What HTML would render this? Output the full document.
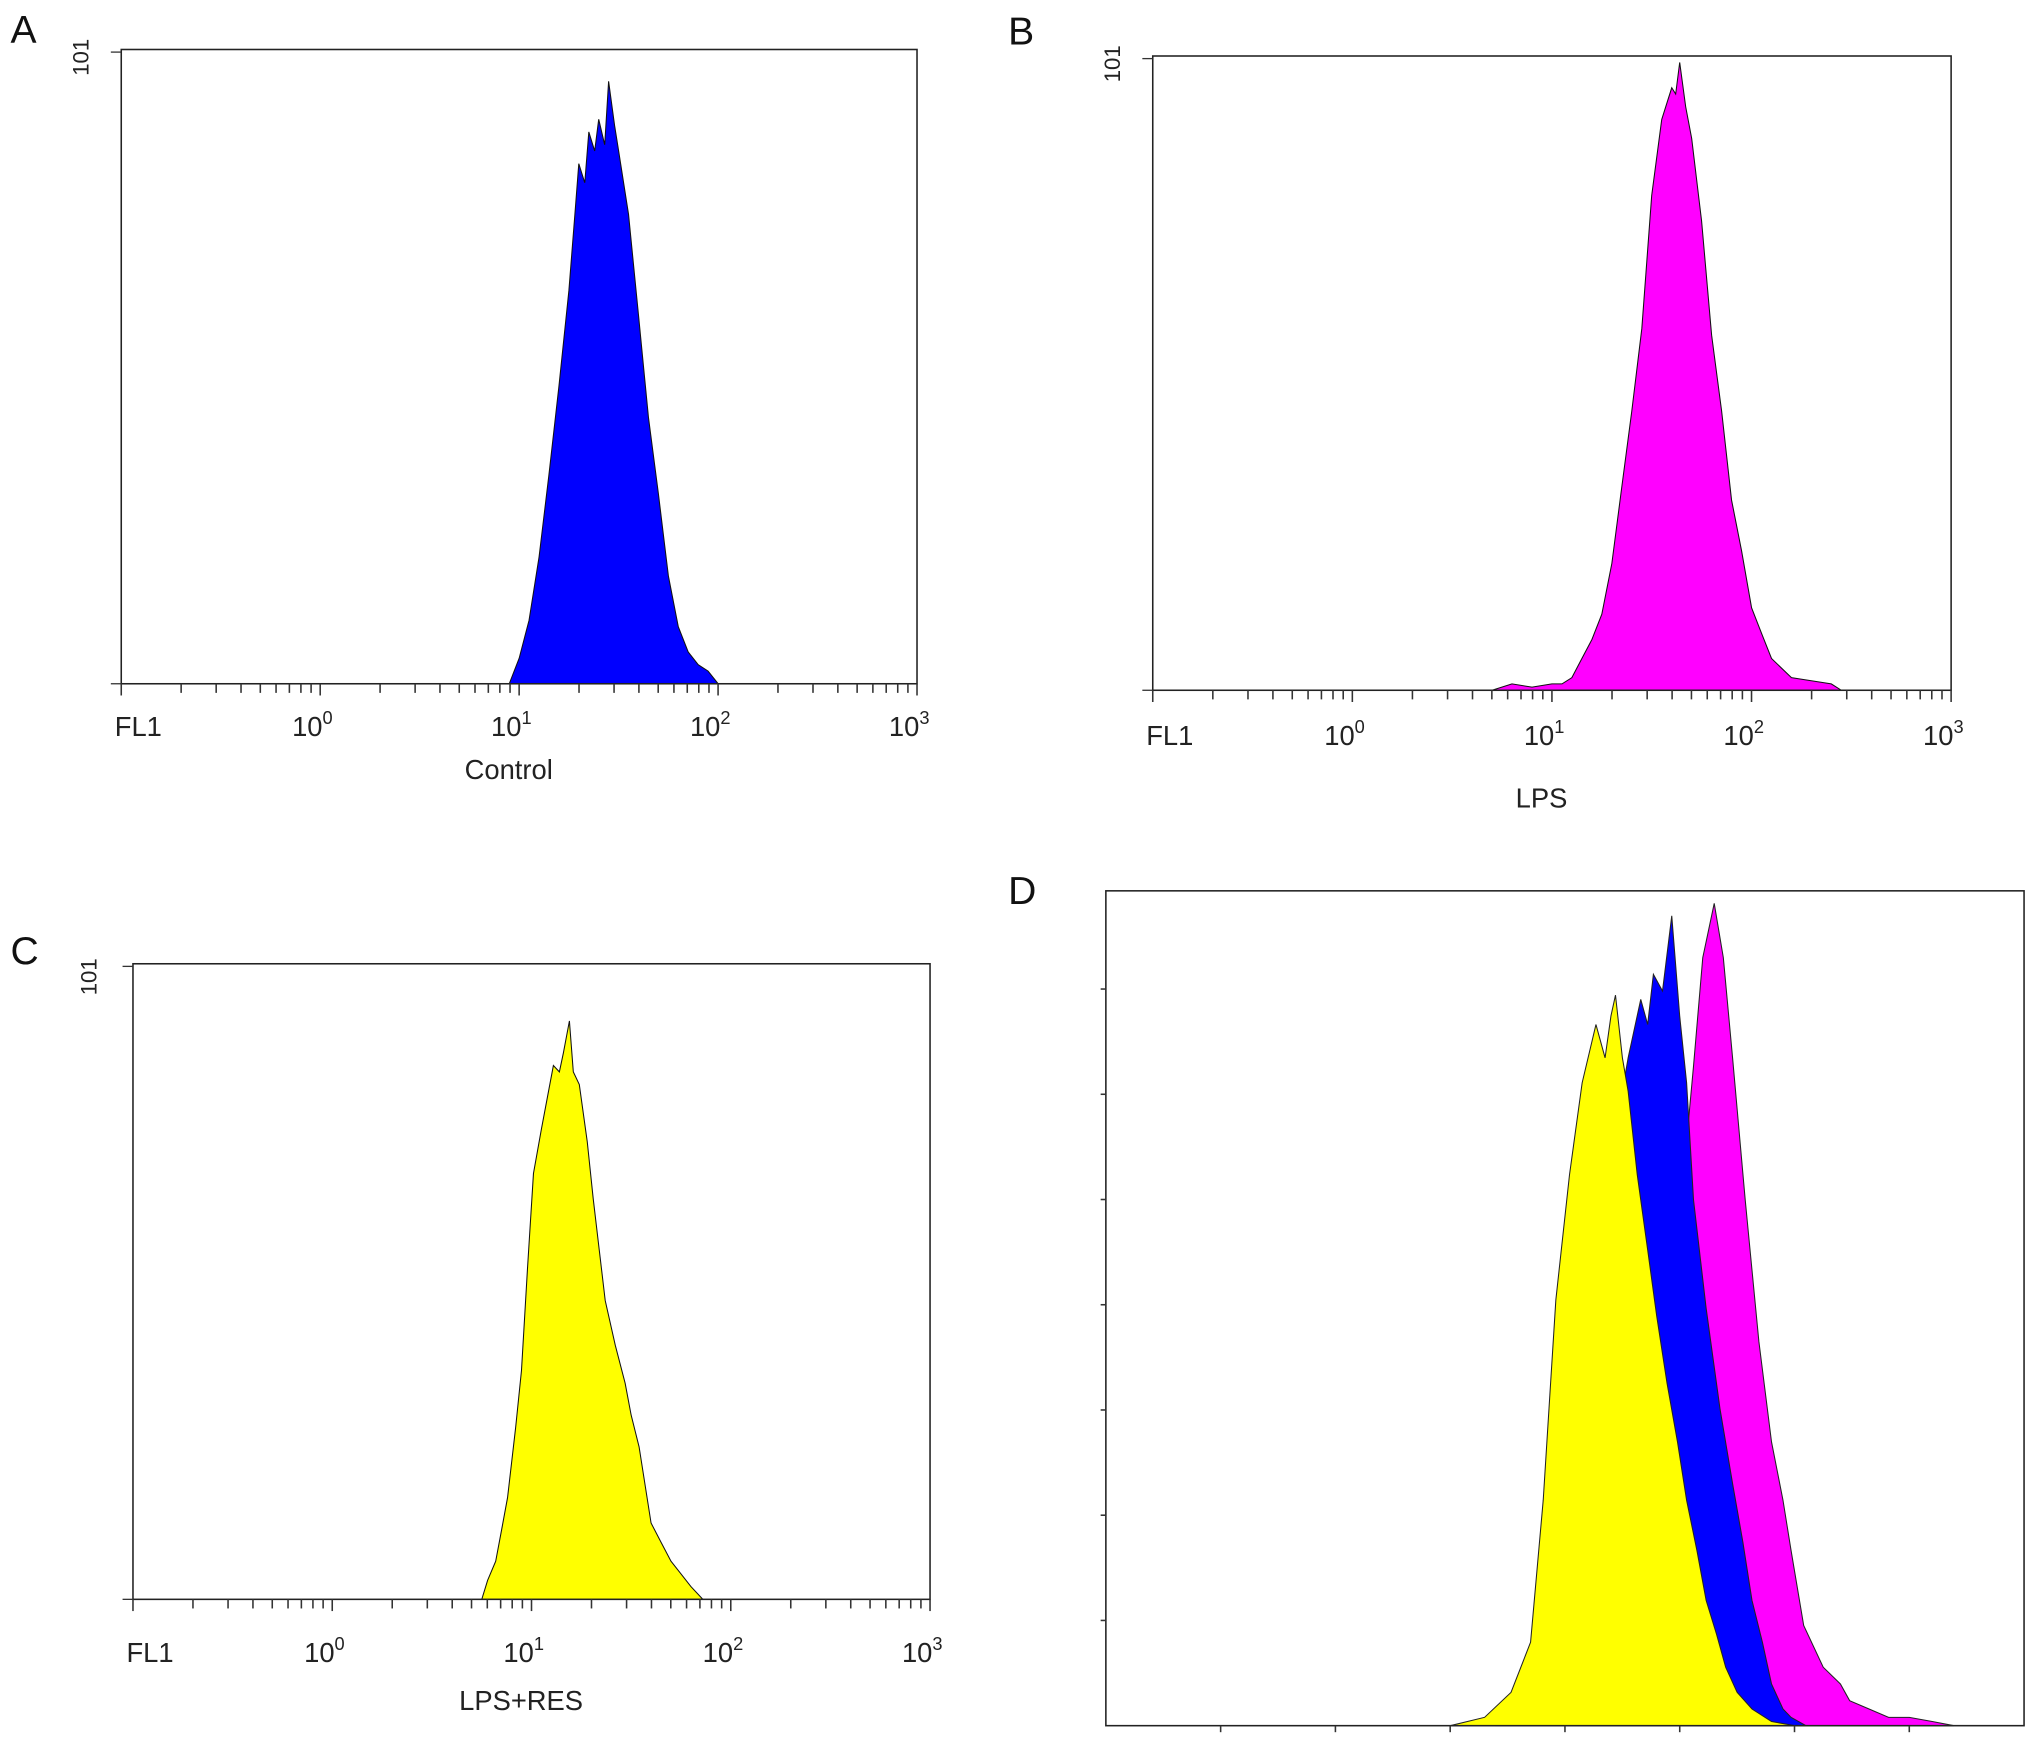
<!DOCTYPE html>
<html><head><meta charset="utf-8"><style>
html,body{margin:0;padding:0;background:#fff;}
svg{display:block;font-family:"Liberation Sans",sans-serif;}
</style></head><body>
<svg id="fig" width="2032" height="1740" viewBox="0 0 1560 1336" xmlns="http://www.w3.org/2000/svg"></svg>
<script>
// ---- data (log10 fluorescence, relative count 0-100) ----
const aX = [0.95,1.0,1.05,1.1,1.15,1.2,1.25,1.28,1.3,1.33,1.35,1.38,1.4,1.43,1.45,1.48,1.5,1.55,1.6,1.65,1.7,1.75,1.8,1.85,1.9,1.95,2.0];
const aY = [0,4,10,20,33,47,62,74,82,79,87,84,89,85,95,88,84,74,58,42,30,17,9,5,3,2,0];
const bX = [0.70,0.8,0.9,1.0,1.05,1.1,1.15,1.2,1.25,1.3,1.35,1.4,1.45,1.5,1.55,1.58,1.6,1.62,1.64,1.67,1.7,1.75,1.8,1.85,1.9,1.95,2.0,2.05,2.1,2.2,2.3,2.4,2.45];
const bY = [0,1,0.5,1,1,2,5,8,12,20,32,44,57,78,90,93,95,94,99,92,87,74,56,44,30,22,13,9,5,2,1.5,1,0];
const cX = [0.75,0.78,0.82,0.85,0.88,0.92,0.95,0.98,1.01,1.05,1.08,1.11,1.14,1.16,1.19,1.21,1.24,1.28,1.31,1.34,1.37,1.42,1.47,1.5,1.54,1.6,1.65,1.7,1.75,1.8,1.86];
const cY = [0,3,6,11,16,27,36,52,67,74,79,84,83,86,91,83,81,72,63,55,47,40,34,29,24,12,9,6,4,2,0];
const dYelX = [3.0,3.3,3.53,3.7,3.81,3.92,4.04,4.15,4.27,4.35,4.4,4.44,4.5,4.55,4.63,4.72,4.8,4.89,4.98,5.06,5.15,5.23,5.32,5.4,5.5,5.63,5.8,6.0];
const dYelY = [0,1,4,10,27,51,66,77,84,80,85,87.5,80,76,66,57,49,41,34,27,21,15,11,7,4,2,0.5,0];
const dBluX = [3.4,3.8,4.0,4.2,4.4,4.55,4.66,4.72,4.77,4.85,4.93,5.0,5.06,5.12,5.23,5.35,5.46,5.55,5.63,5.72,5.8,5.9,5.97,6.1];
const dBluY = [0,8,28,52,68,80,87,84,90,88,97,85,77,63,50,38,29,22,15,10,5,2,1,0];
const dMagX = [3.5,3.9,4.3,4.6,4.8,4.95,5.06,5.12,5.2,5.3,5.38,5.46,5.57,5.69,5.8,5.9,5.97,6.08,6.25,6.4,6.48,6.65,6.82,7.0,7.2,7.39];
const dMagY = [0,6,30,52,64,68,70,79,92,98.5,92,80,63,46,34,27,21,12,7,5,3,2,1,1,0.5,0];
const decadeLabels = ["0","1","2","3"];
const titles = ["Control","LPS","LPS+RES"];

const NS="http://www.w3.org/2000/svg";
const svg=document.getElementById('fig');
function el(tag,attrs,parent){const e=document.createElementNS(NS,tag);for(const k in attrs)e.setAttribute(k,attrs[k]);(parent||svg).appendChild(e);return e;}

function histPath(xs,ys,sx,sy){
  let d='M'+sx(xs[0])+','+sy(0);
  for(let i=0;i<xs.length;i++)d+=' L'+sx(xs[i]).toFixed(1)+','+sy(ys[i]).toFixed(1);
  d+=' L'+sx(xs[xs.length-1])+','+sy(0)+' Z';return d;
}

function logPanel(id,box,xs,ys,color,title,letter,labY,titleY,yLab){
  const g=el('g',{});
  
  
  const [L,T,R,B]=box;
  const sx=v=>L+(v+1)*(R-L)/4;
  const sy=v=>B-v/100*(B-T);
  const p=el('path',{d:histPath(xs,ys,sx,sy),fill:color,stroke:'#111','stroke-width':0.8},g);
  
  
  const fr=el('rect',{x:L,y:T,width:R-L,height:B-T,fill:'none',stroke:'#222','stroke-width':1.2},g);
  
  
  for(let dcd=-1;dcd<3;dcd++){
    for(let m=1;m<=9;m++){
      const x=sx(dcd+Math.log10(m));
      el('line',{x1:x,x2:x,y1:B,y2:B+(m===1?9:7),stroke:'#333','stroke-width':1.2},g);
    }
  }
  el('line',{x1:R,x2:R,y1:B,y2:B+9,stroke:'#333','stroke-width':1.2},g);
  el('line',{x1:L-8,x2:L,y1:T+2,y2:T+2,stroke:'#333','stroke-width':1},g);
  el('line',{x1:L-8,x2:L,y1:B,y2:B,stroke:'#333','stroke-width':1},g);
  const fl=el('text',{x:L-5,y:labY,'font-size':21,fill:'#222'},g);fl.textContent='FL1';
  
  
  decadeLabels.forEach((lab,i)=>{
    const t=el('text',{x:sx(i)-6,y:labY,'font-size':21,fill:'#222','text-anchor':'middle'},g);
    
    
    t.appendChild(document.createTextNode('10'));
    const s=el('tspan',{dy:-9,'font-size':14},t);s.textContent=lab;
  });
  const tt=el('text',{x:(L+R)/2-8,y:titleY,'font-size':21,fill:'#222','text-anchor':'middle'},g);tt.textContent=title;
  
  
  const yl=el('text',{x:0,y:0,'font-size':17,fill:'#222','text-anchor':'middle',transform:`translate(${yLab[0]},${yLab[1]}) rotate(-90)`},g);yl.textContent='101';
  
  
  const lt=el('text',{x:letter[0],y:letter[1],'font-size':30,fill:'#111'},g);lt.textContent=letter[2];
  
  
}

logPanel('a',[93,38,704,525],aX,aY,'#0000ff',titles[0],[8,33,'A'],565,598,[68,44]);
logPanel('b',[885,43,1498,530],bX,bY,'#ff00ff',titles[1],[774,34,'B'],572,620,[860,49]);
logPanel('c',[102,740,714,1228],cX,cY,'#ffff00',titles[2],[8,740,'C'],1276,1313,[74,750]);

// panel D overlay
(function(){
  const g=el('g',{});
  
  
  const L=849,T=684,R=1554,B=1325;
  const sx=u=>L+u*(R-L)/8;
  const sy=v=>B-v/100*(B-T);
  [[dMagX,dMagY,'#ff00ff','magenta-lps'],[dBluX,dBluY,'#0000ff','blue-control'],[dYelX,dYelY,'#ffff00','yellow-lps-res']].forEach(s=>{
    const p=el('path',{d:histPath(s[0],s[1],sx,sy),fill:s[2],stroke:'#222','stroke-width':0.8},g);
    
    
  });
  const fr=el('rect',{x:L,y:T,width:R-L,height:B-T,fill:'none',stroke:'#222','stroke-width':1.2},g);
  
  
  for(let i=1;i<8;i++)el('line',{x1:sx(i),x2:sx(i),y1:B,y2:B+5,stroke:'#333','stroke-width':1.2},g);
  for(let i=1;i<=7;i++){const y=B-i*80.8;el('line',{x1:L-4,x2:L,y1:y,y2:y,stroke:'#333','stroke-width':1.2},g);}
  const lt=el('text',{x:774,y:694,'font-size':30,fill:'#111'},g);lt.textContent='D';
  
  
})();
</script>
</body></html>
